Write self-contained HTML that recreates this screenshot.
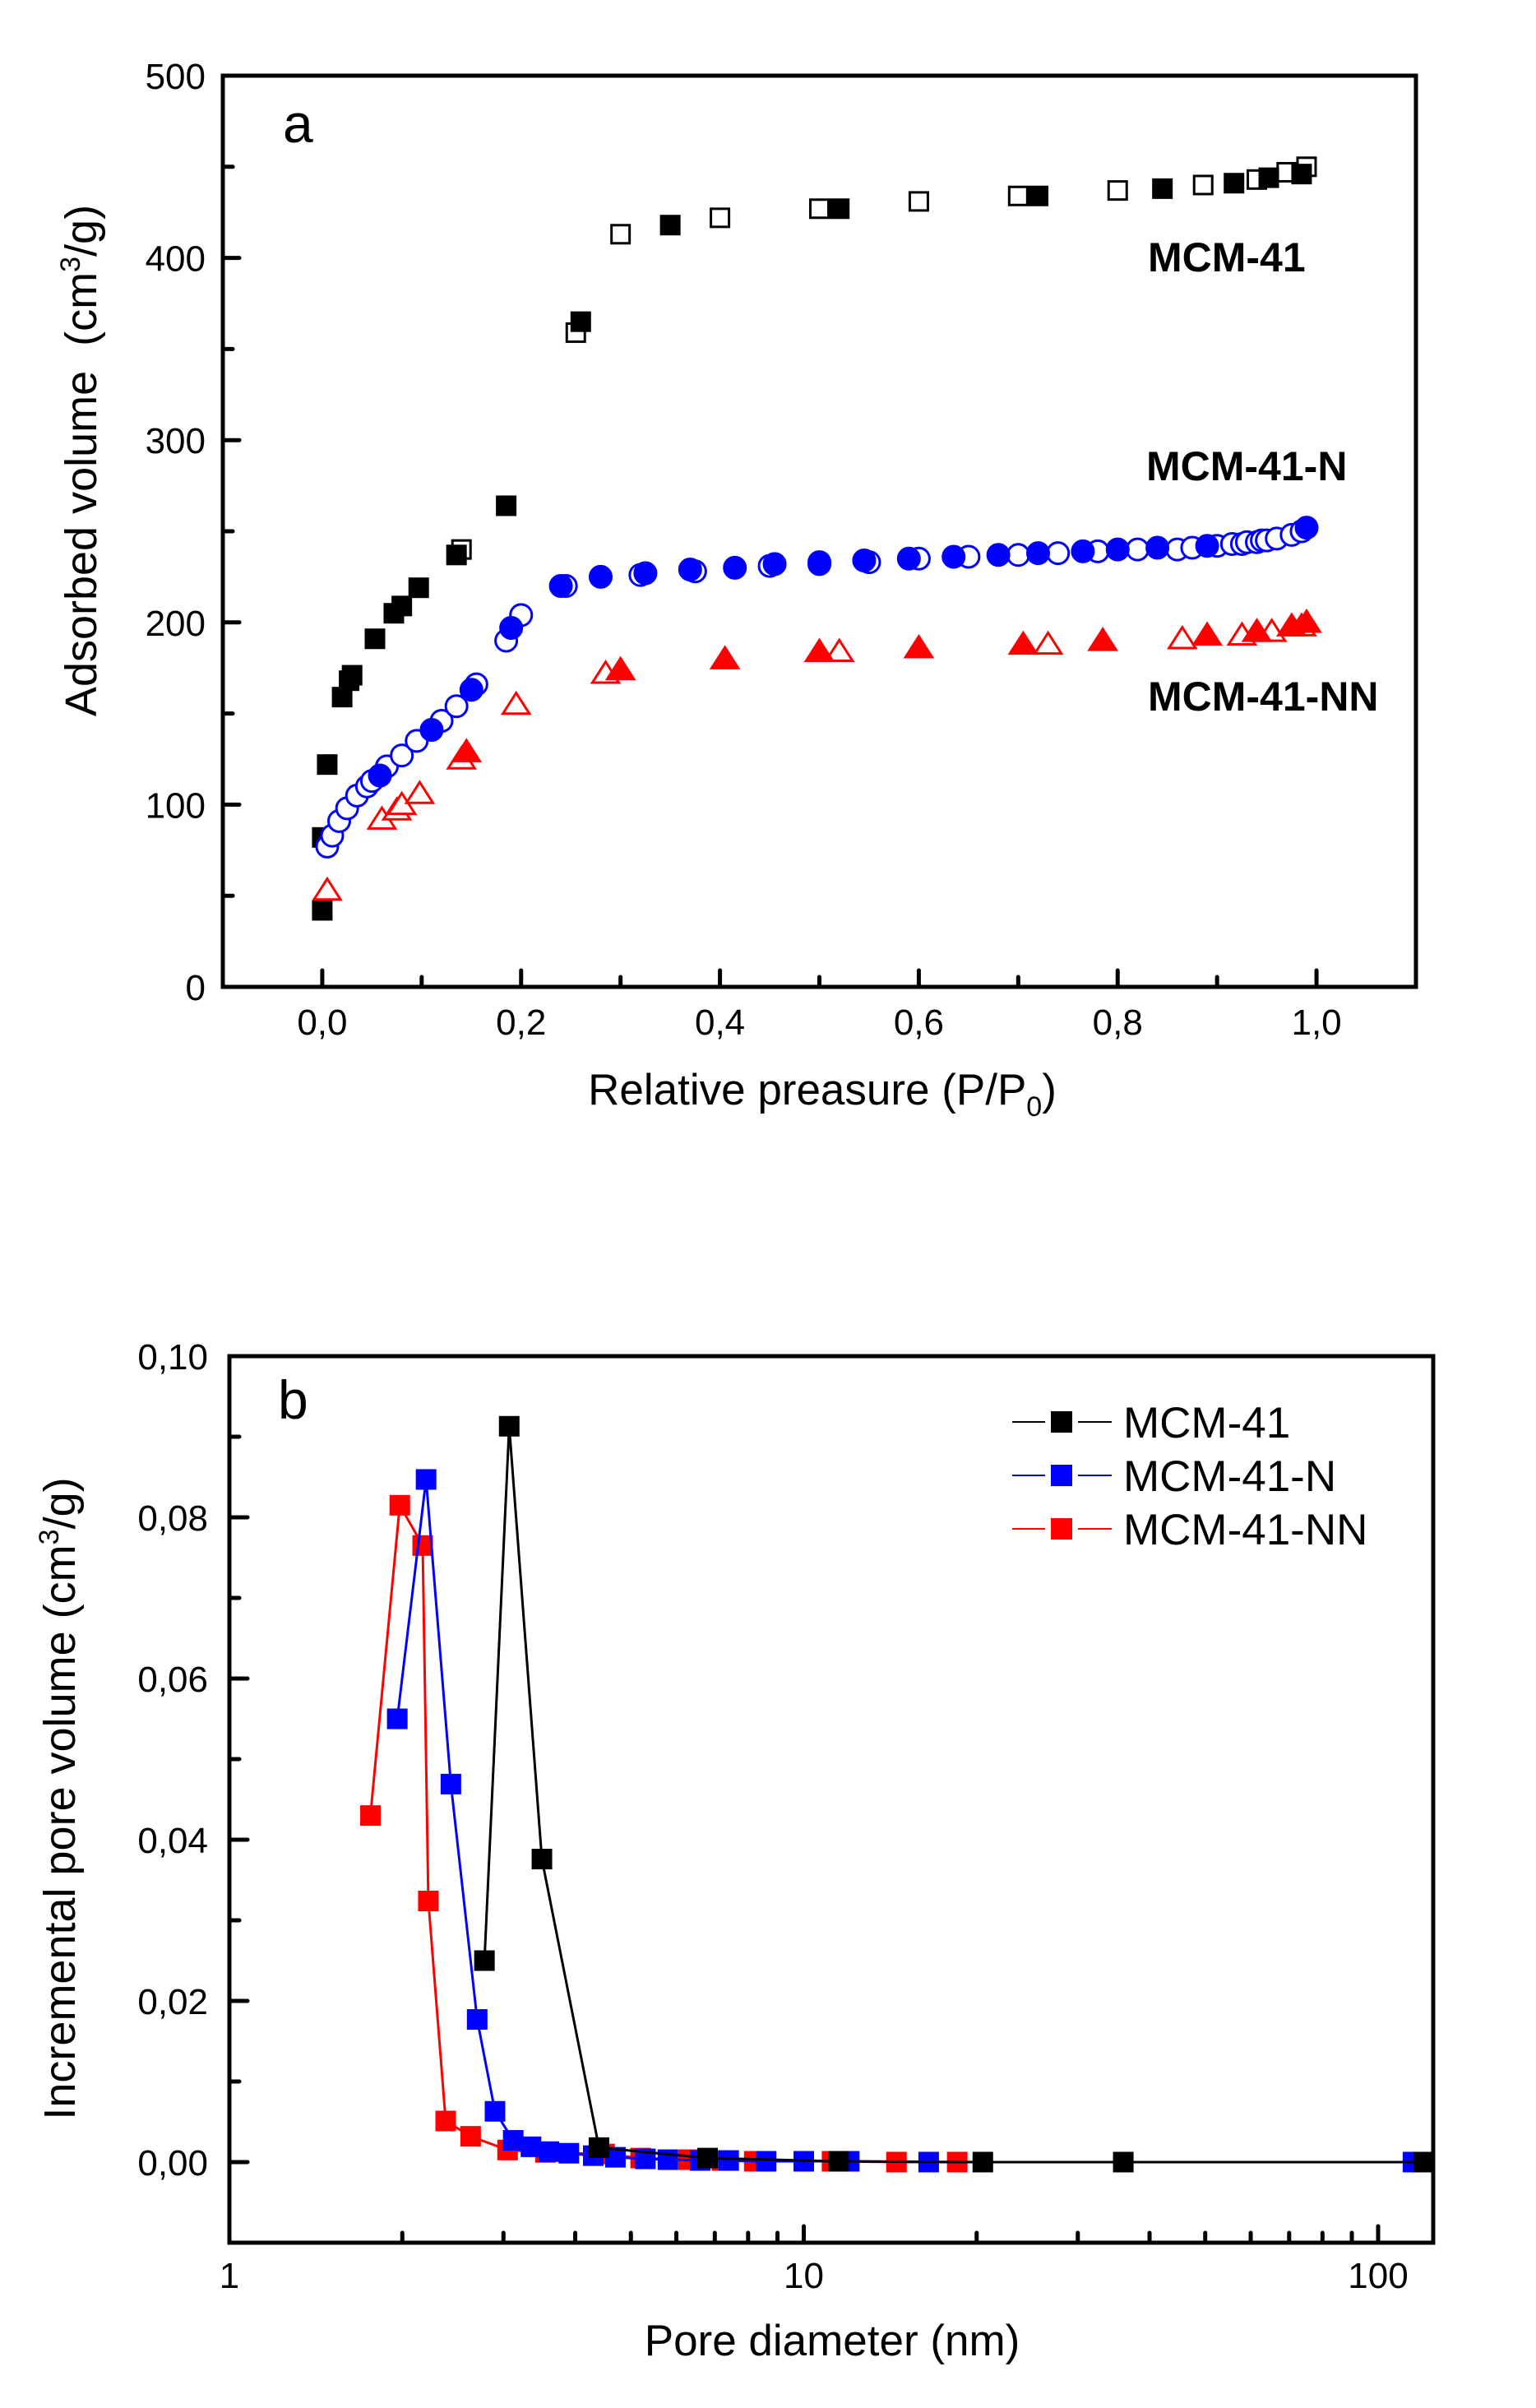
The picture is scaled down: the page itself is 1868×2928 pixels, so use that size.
<!DOCTYPE html>
<html><head><meta charset="utf-8"><style>
html,body{margin:0;padding:0;background:#fff}
svg{display:block}
text{font-family:"Liberation Sans",Arial,sans-serif}
</style></head><body>
<svg id="fig" width="1868" height="2928" viewBox="0 0 1868 2928" xmlns="http://www.w3.org/2000/svg"></svg>
<script>
// ---- Chart a data (P/P0, cm3/g) ----
const aMcmAdsX=[0.0,0.0,0.005,0.02,0.027,0.03,0.053,0.072,0.08,0.097,0.135,0.185,0.26,0.35,0.52,0.72,0.845,0.917,0.952,0.985];
const aMcmAdsY=[42,82,122,159,168,171,191,205,209,219,237,264,365,418,427,434,438,441,444,446];
const aMcmDesX=[0.99,0.97,0.94,0.886,0.80,0.70,0.60,0.50,0.40,0.30,0.255,0.14];
const aMcmDesY=[450,447,443,440,437,434,431,427,422,413,359,240];
const aNAdsX=[0.058,0.11,0.15,0.19,0.24,0.28,0.325,0.37,0.415,0.455,0.50,0.545,0.59,0.635,0.68,0.72,0.765,0.80,0.84,0.89,0.99];
const aNAdsY=[116,141,163,197,220,225,227,229,230,232,233,234,235,236,237,238,239,240,241,242,252];
const aNDesX=[0.005,0.01,0.017,0.025,0.035,0.045,0.05,0.065,0.08,0.095,0.12,0.135,0.155,0.185,0.2,0.245,0.32,0.375,0.45,0.50,0.55,0.60,0.65,0.70,0.74,0.78,0.82,0.86,0.875,0.90,0.915,0.925,0.93,0.94,0.945,0.95,0.96,0.975,0.985];
const aNDesY=[77,83,91,98,105,110,113,121,127,135,146,154,166,190,204,220,226,228,231,232,233,235,236,237,238,239,240,240,241,242,243,243,244,244,245,245,246,248,250];
const aNNAdsX=[0.145,0.30,0.405,0.50,0.60,0.705,0.785,0.89,0.94,0.975,0.99];
const aNNAdsY=[129,174,180,184,186,188,190,193,195,198,200];
const aNNDesX=[0.005,0.06,0.075,0.08,0.098,0.14,0.195,0.285,0.52,0.73,0.865,0.925,0.955,0.985];
const aNNDesY=[53,92,97,100,106,125,155,172,184,188,191,193,195,198];
const aXTicks=[0,0.2,0.4,0.6,0.8,1.0];
const aXTickLabels=["0,0","0,2","0,4","0,6","0,8","1,0"];
const aYTicks=[0,100,200,300,400,500];
const aYTickLabels=["0","100","200","300","400","500"];
// ---- Chart b data (nm, cm3/g) ----
const bMcmX=[2.78,3.07,3.5,4.4,6.8,11.5,20.5,36,120];
const bMcmY=[0.025,0.0913,0.0376,0.0018,0.0005,0.0001,0,0,0];
const bNX=[1.96,2.2,2.43,2.7,2.9,3.12,3.35,3.6,3.9,4.3,4.7,5.3,5.8,6.6,7.4,8.6,10,12,16.5,115];
const bNY=[0.055,0.0847,0.0469,0.0177,0.0063,0.0027,0.0019,0.0013,0.0011,0.0008,0.0006,0.0004,0.0003,0.0002,0.0002,0.0001,0.0001,0.0001,0,0];
const bNNX=[1.76,1.98,2.17,2.22,2.38,2.63,3.05,3.55,4.5,5.2,6.3,7.2,8.2,11.2,14.5,18.5];
const bNNY=[0.043,0.0815,0.0765,0.0324,0.0051,0.0032,0.0015,0.0012,0.001,0.0005,0.0003,0.0002,0.0001,0.0001,0,0];
const bYTicks=[0,0.02,0.04,0.06,0.08,0.10];
const bYTickLabels=["0,00","0,02","0,04","0,06","0,08","0,10"];
const bXTicks=[1,10,100];
const bXTickLabels=["1","10","100"];

const NS="http://www.w3.org/2000/svg";
const svg=document.getElementById('fig');
function mk(tag,attrs,parent,text){const e=document.createElementNS(NS,tag);for(const k in attrs)e.setAttribute(k,attrs[k]);if(text!==undefined)e.textContent=text;(parent||svg).appendChild(e);return e;}

const A={l:271,r:1722,t:92,b:1200,x0:-0.1,x1:1.1,y0:0,y1:500};
const ax=v=>A.l+(v-A.x0)/(A.x1-A.x0)*(A.r-A.l);
const ay=v=>A.b-(v-A.y0)/(A.y1-A.y0)*(A.b-A.t);
const B={l:279,r:1743,t:1649,b:2727,y0:-0.01,y1:0.10};
const bx=v=>279+Math.log10(v)*698.5;
const by=v=>B.b-(v-B.y0)/(B.y1-B.y0)*(B.b-B.t);

const ga=mk('g',{});
const gb=mk('g',{});

for(let i=0;i<=10;i++){const v=i/10;const x=ax(v);const L=(i%2==0)?20:12;
 const t=mk('line',{x1:x,x2:x,y1:A.b,y2:A.b-L,stroke:'#000','stroke-width':5,'stroke-linecap':'round'},ga);}
aXTicks.forEach((v,i)=>{const t=mk('text',{x:ax(v),y:1258,'font-size':44,'text-anchor':'middle'},ga,aXTickLabels[i]);});
for(let i=0;i<=10;i++){const v=i*50;const y=ay(v);const L=(i%2==0)?20:12;
 const t=mk('line',{x1:A.l,x2:A.l+L,y1:y,y2:y,stroke:'#000','stroke-width':5,'stroke-linecap':'round'},ga);}
aYTicks.forEach((v,i)=>{const t=mk('text',{x:250,y:ay(v)+16,'font-size':44,'text-anchor':'end'},ga,aYTickLabels[i]);});
const fa=mk('rect',{x:A.l,y:A.t,width:A.r-A.l,height:A.b-A.t,fill:'none',stroke:'#000','stroke-width':5},ga);

function sq(g,x,y,s,fill,stroke,name){const e=mk('rect',{x:x-s/2,y:y-s/2,width:s,height:s,fill:fill,stroke:stroke,'stroke-width':3},g);}
function circ(g,x,y,fill,name){const e=mk('circle',{cx:x,cy:y,r:13,fill:fill,stroke:'#00f','stroke-width':3},g);}
function tri(g,x,y,fill,name){const s=14;const e=mk('polygon',{points:`${x},${y-s} ${x+s*1.15},${y+s*0.8} ${x-s*1.15},${y+s*0.8}`,fill:fill,stroke:'#f00','stroke-width':3},g);}

aMcmDesX.forEach((v,i)=>sq(ga,ax(v),ay(aMcmDesY[i]),22,'#fff','#000','mcm41-desorption-point'));
aMcmAdsX.forEach((v,i)=>sq(ga,ax(v),ay(aMcmAdsY[i]),25,'#000','none','mcm41-adsorption-point'));
aNDesX.forEach((v,i)=>circ(ga,ax(v),ay(aNDesY[i]),'#fff','mcm41n-desorption-point'));
aNAdsX.forEach((v,i)=>circ(ga,ax(v),ay(aNAdsY[i]),'#00f','mcm41n-adsorption-point'));
aNNDesX.forEach((v,i)=>tri(ga,ax(v),ay(aNNDesY[i]),'#fff','mcm41nn-desorption-point'));
aNNAdsX.forEach((v,i)=>tri(ga,ax(v),ay(aNNAdsY[i]),'#f00','mcm41nn-adsorption-point'));

let t;
t=mk('text',{x:344,y:173,'font-size':66},ga,'a');
t=mk('text',{x:1396,y:330,'font-size':50,'font-weight':'bold'},ga,'MCM-41');
t=mk('text',{x:1394,y:584,'font-size':50,'font-weight':'bold'},ga,'MCM-41-N');
t=mk('text',{x:1396,y:864,'font-size':50,'font-weight':'bold'},ga,'MCM-41-NN');
t=mk('text',{x:1000,y:1343,'font-size':53,'text-anchor':'middle'},ga);t.innerHTML='Relative preasure (P/P<tspan font-size="34" dy="14">0</tspan><tspan dy="-14">)</tspan>';
t=mk('text',{x:0,y:0,'font-size':54,'text-anchor':'middle','xml:space':'preserve',transform:'translate(117,560) rotate(-90)'},ga);t.innerHTML='Adsorbed volume&#160; (cm<tspan font-size="34" dy="-20">3</tspan><tspan dy="20">/g)</tspan>';

for(let d=0;d<3;d++)for(let m=1;m<=9;m++){const v=m*Math.pow(10,d);if(v>124)continue;const x=bx(v);const L=(m==1)?20:12;
 const e=mk('line',{x1:x,x2:x,y1:B.b,y2:B.b-L,stroke:'#000','stroke-width':5,'stroke-linecap':'round'},gb);}
bXTicks.forEach((v,i)=>{const e=mk('text',{x:bx(v),y:2782,'font-size':44,'text-anchor':'middle'},gb,bXTickLabels[i]);});
for(let i=0;i<=10;i++){const v=i*0.01;const y=by(v);const L=(i%2==0)?22:12;
 const e=mk('line',{x1:B.l,x2:B.l+L,y1:y,y2:y,stroke:'#000','stroke-width':5,'stroke-linecap':'round'},gb);}
bYTicks.forEach((v,i)=>{const e=mk('text',{x:253,y:by(v)+16,'font-size':44,'text-anchor':'end'},gb,bYTickLabels[i]);});

function series(xs,ys,col,name){const g=mk('g',{},gb);
 const p=mk('polyline',{points:xs.map((v,i)=>bx(v)+','+by(ys[i])).join(' '),fill:'none',stroke:col,'stroke-width':3},g);
 xs.forEach((v,i)=>{const r=mk('rect',{x:bx(v)-12.5,y:by(ys[i])-12.5,width:25,height:25,fill:col},g);});}
series(bNNX,bNNY,'#f00','mcm41nn-series');
series(bNX,bNY,'#00f','mcm41n-series');
series(bMcmX,bMcmY,'#000','mcm41-series');
const fb=mk('rect',{x:B.l,y:B.t,width:B.r-B.l,height:B.b-B.t,fill:'none',stroke:'#000','stroke-width':5},gb);

const leg=mk('g',{},gb);
[['MCM-41','#000',1729],['MCM-41-N','#00f',1794],['MCM-41-NN','#f00',1859]].forEach(r=>{
 const g=mk('g',{},leg);
 mk('line',{x1:1231,x2:1271,y1:r[2],y2:r[2],stroke:r[1],'stroke-width':2},g);
 mk('line',{x1:1311,x2:1352,y1:r[2],y2:r[2],stroke:r[1],'stroke-width':2},g);
 mk('rect',{x:1278,y:r[2]-13,width:26,height:26,fill:r[1]},g);
 mk('text',{x:1366,y:r[2]+19,'font-size':53},g,r[0]);
});

t=mk('text',{x:338,y:1725,'font-size':66},gb,'b');
t=mk('text',{x:1012,y:2864,'font-size':53,'text-anchor':'middle'},gb,'Pore diameter (nm)');
t=mk('text',{x:0,y:0,'font-size':54,'text-anchor':'middle',transform:'translate(91,2187) rotate(-90)'},gb);t.innerHTML='Incremental pore volume (cm<tspan font-size="34" dy="-20">3</tspan><tspan dy="20">/g)</tspan>';
</script>
</body></html>
